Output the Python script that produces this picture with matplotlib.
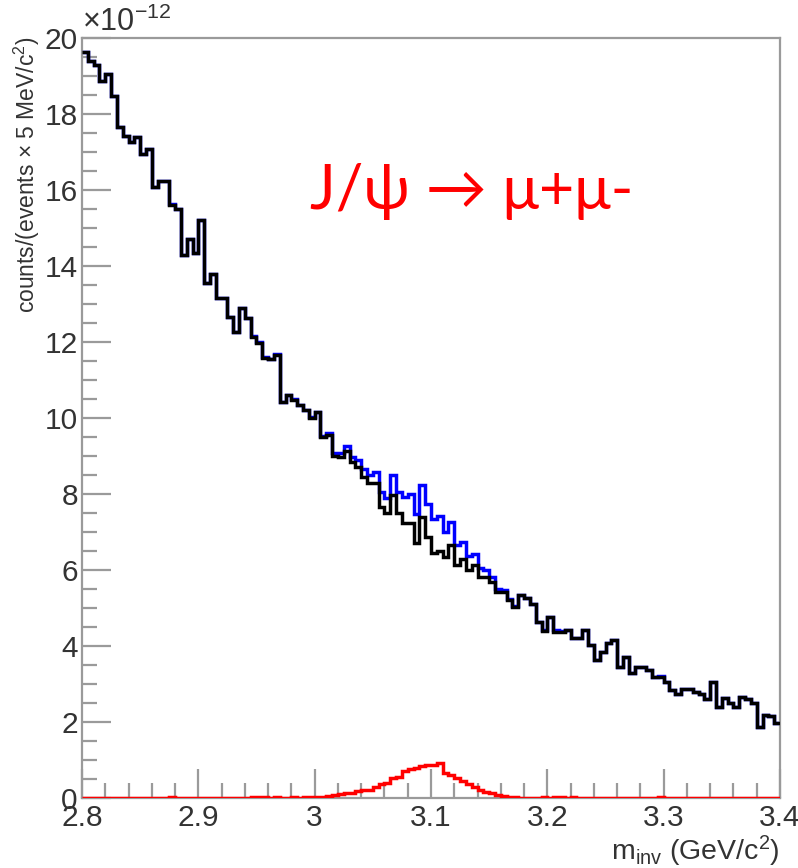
import matplotlib
matplotlib.use("Agg")
import matplotlib.pyplot as plt
import numpy as np
from matplotlib.ticker import MultipleLocator, FormatStrFormatter

plt.rcParams['font.family'] = ['Liberation Sans', 'DejaVu Sans']
plt.rcParams['mathtext.fontset'] = 'custom'
plt.rcParams['mathtext.rm'] = 'Liberation Sans'
plt.rcParams['mathtext.it'] = 'Liberation Sans:italic'

# invariant mass binning: 2.8 - 3.4 GeV/c^2 in 5 MeV bins
m_lo, m_hi, n_bins = 2.8, 3.4, 120
edges = np.linspace(m_lo, m_hi, n_bins + 1)

# background (black), in units of 1e-12
background = [
    19.63, 19.40, 19.30, 18.87, 19.04, 18.48, 17.65, 17.43, 17.26, 17.39,
    16.96, 17.09, 16.09, 16.23, 16.23, 15.60, 15.50, 14.30, 14.70, 14.35,
    15.20, 13.55, 13.80, 13.15, 13.15, 12.67, 12.27, 12.89, 12.63, 12.14,
    11.97, 11.58, 11.55, 11.66, 10.43, 10.60, 10.47, 10.34, 10.20, 10.00,
    10.15, 9.50, 9.55, 9.00, 8.98, 9.14, 8.85, 8.72, 8.46, 8.29,
    8.29, 7.67, 7.50, 7.97, 7.50, 7.23, 7.23, 6.70, 7.40, 6.88,
    6.45, 6.50, 6.35, 6.66, 6.13, 6.30, 6.00, 6.13, 5.82, 5.82,
    5.69, 5.43, 5.43, 5.21, 5.03, 5.34, 5.26, 5.10, 4.64, 4.40,
    4.77, 4.38, 4.38, 4.42, 4.20, 4.20, 4.42, 4.03, 3.63, 3.85,
    4.07, 4.16, 3.46, 3.72, 3.30, 3.46, 3.46, 3.37, 3.19, 3.19,
    3.06, 2.85, 2.75, 2.88, 2.88, 2.80, 2.75, 2.60, 3.06, 2.40,
    2.62, 2.50, 2.40, 2.67, 2.60, 2.49, 1.88, 2.18, 2.15, 1.97,
]

# J/psi -> mu+mu- signal (red), in units of 1e-12
signal = [
    0.00, 0.00, 0.00, 0.00, 0.00, 0.00, 0.00, 0.00, 0.00, 0.00,
    0.00, 0.00, 0.00, 0.00, 0.00, 0.02, 0.00, 0.00, 0.00, 0.00,
    0.00, 0.00, 0.00, 0.00, 0.00, 0.00, 0.00, 0.00, 0.00, 0.02,
    0.03, 0.02, 0.00, 0.02, 0.00, 0.00, 0.03, 0.00, 0.02, 0.03,
    0.02, 0.03, 0.05, 0.08, 0.10, 0.12, 0.13, 0.18, 0.20, 0.22,
    0.30, 0.38, 0.40, 0.52, 0.55, 0.70, 0.76, 0.78, 0.83, 0.86,
    0.88, 0.91, 0.66, 0.60, 0.53, 0.45, 0.38, 0.30, 0.22, 0.17,
    0.12, 0.08, 0.05, 0.03, 0.02, 0.01, 0.00, 0.00, 0.00, 0.02,
    0.00, 0.03, 0.02, 0.00, 0.02, 0.00, 0.00, 0.00, 0.00, 0.00,
    0.00, 0.00, 0.00, 0.00, 0.00, 0.00, 0.00, 0.00, 0.00, 0.02,
    0.00, 0.00, 0.00, 0.00, 0.00, 0.00, 0.00, 0.00, 0.00, 0.00,
    0.00, 0.00, 0.00, 0.00, 0.00, 0.00, 0.00, 0.00, 0.00, 0.00,
]

background = np.array(background)
signal = np.array(signal)
total = background + signal

W, H = 798, 868
fig = plt.figure(figsize=(W / 100, H / 100), dpi=100)
ax = fig.add_axes([82 / W, 1 - 798 / H, (780 - 82) / W, (798 - 38) / H])

lw = 2.5
ax.stairs(total, edges, baseline=None, color="#0000ff", lw=lw, zorder=2)
ax.stairs(background, edges, baseline=None, color="black", lw=lw, zorder=3)
ax.stairs(signal, edges, baseline=None, color="#ff0000", lw=lw, zorder=4)

ax.set_xlim(m_lo, m_hi)
ax.set_ylim(0, 20)

frame = "#9a9a9a"
for s in ax.spines.values():
    s.set_color(frame)
    s.set_linewidth(1.6)

ax.xaxis.set_major_locator(MultipleLocator(0.1))
ax.xaxis.set_minor_locator(MultipleLocator(0.02))
ax.yaxis.set_major_locator(MultipleLocator(2))
ax.yaxis.set_minor_locator(MultipleLocator(0.5))
ax.xaxis.set_major_formatter(FormatStrFormatter("%g"))
ax.yaxis.set_major_formatter(FormatStrFormatter("%g"))
ax.tick_params(which="both", direction="in", color=frame, width=1.6,
               top=False, right=False, labelsize=21.5, labelcolor="#333333")
ax.tick_params(which="major", length=21)
ax.tick_params(which="minor", length=11)
ax.tick_params(axis="y", pad=3)
ax.tick_params(axis="x", pad=4)

ax.text(0.0, 1.0, r"×10$^{-12}$", transform=ax.transAxes, ha="left",
        va="bottom", fontsize=22, color="#333333")

# axis titles placed in figure pixels
fig.text(27 / W, 1 - 36 / H, r"counts/(events × 5 MeV/c$^{2}$)",
         rotation=90, ha="center", va="top", fontsize=16.5, color="#333333")
fig.text(780 / W, 1 - 851 / H, r"m$_{\rm inv}$ (GeV/c$^{2}$)",
         ha="right", va="center", fontsize=20.5, color="#333333")

ax.text(3.135, 15.95, "J/ψ → μ+μ-", color="#ff0000", fontsize=44,
        ha="center", va="center", family=["Lato", "DejaVu Sans"])

fig.savefig("out.png", dpi=100)
